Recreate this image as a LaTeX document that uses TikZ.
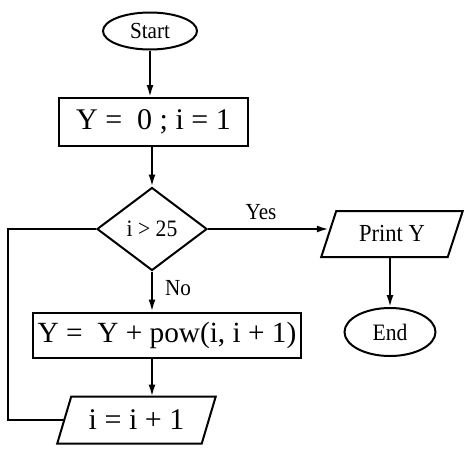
\documentclass[tikz,border=0pt]{standalone}
\usepackage{fontspec}
\setmainfont{Liberation Serif}
\newfontfamily\narrowserif[FakeStretch=0.92]{Liberation Serif}
\usetikzlibrary{shapes.geometric,arrows.meta}
\begin{document}
\begin{tikzpicture}[x=1pt,y=-1pt,
  line width=2pt,
  every node/.style={inner sep=0pt},
  arr/.style={-{Latex[length=12pt,width=7pt]}},
  small/.style={font=\narrowserif\fontsize{#1}{#1}\selectfont},
  term/.style={draw,ellipse,small=23},
  proc/.style={draw,rectangle,font=\fontsize{30}{34}\selectfont},
  iobody/.style={rectangle,minimum width=#1},
  lbl/.style={small=23}]
\useasboundingbox (0,0) rectangle (471,448);
\node[term,minimum width=94pt,minimum height=37pt] (start) at (150,31) {Start};
\node[proc,minimum width=189pt,minimum height=48pt] (init) at (153.5,122) {Y =\ \ 0 ; i = 1};
\node[draw,diamond,minimum width=110pt,minimum height=83pt,small=23.5] (dec) at (152,229) {i > 25};
\node[iobody=124.5pt,minimum height=44pt,small=24.5] (print) at (392,234) {Print Y};
\draw ([xshift=-7.5pt]print.south west) -- ([xshift=7.5pt]print.north west) -- ([xshift=7.5pt]print.north east) -- ([xshift=-7.5pt]print.south east) -- cycle;
\node[term,minimum width=91pt,minimum height=48pt,small=23.5] (end) at (390,332) {End};
\node[proc,minimum width=268pt,minimum height=45pt,font=\fontsize{29.3}{34}\selectfont] (body) at (167,335) {Y =\ \ Y + pow(i, i + 1)};
\node[iobody=142.5pt,minimum height=45pt,font=\fontsize{30}{34}\selectfont] (inc) at (136.5,420) {i = i + 1};
\draw ([xshift=-7pt]inc.south west) -- ([xshift=7pt]inc.north west) -- ([xshift=7pt]inc.north east) -- ([xshift=-7pt]inc.south east) -- cycle;
\coordinate (loop) at (8,420);
\node[lbl] (yes) at (261,212) {Yes};
\node[lbl] (no) at (178,288) {No};
\draw[arr] (start) -- (start |- init.north);
\draw[arr] (dec.north |- init.south) -- (dec.north);
\draw[arr] (dec.east) -- (dec.east -| print.west);
\draw[arr] (print.south -| end.north) -- (end.north);
\draw[arr] (dec.south) -- (dec.south |- body.north);
\draw[arr] (dec.south |- body.south) -- (dec.south |- inc.north);
\draw (inc.west) -- (loop) |- (dec.west);
\end{tikzpicture}
\end{document}
